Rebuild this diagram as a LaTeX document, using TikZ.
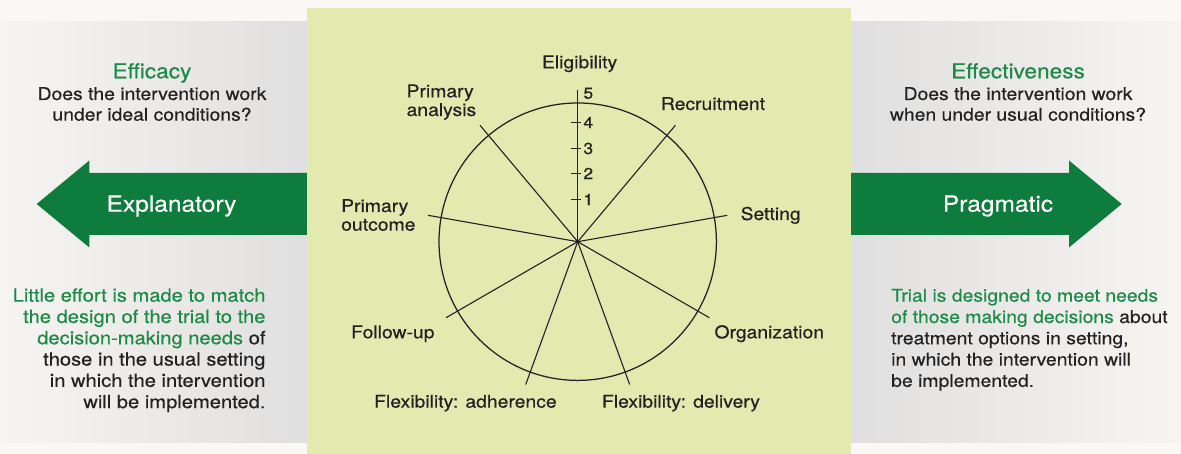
\documentclass[tikz,border=0pt]{standalone}
\usepackage{fontspec}
\setmainfont{TeX Gyre Heros}[FakeStretch=1.1,FakeBold=0.4]

\definecolor{bg}{HTML}{F9F8F4}
\definecolor{panelhi}{HTML}{F6F5F2}
\definecolor{panello}{HTML}{E0DFDF}
\definecolor{wheelbg}{HTML}{E2EAB0}
\definecolor{arrowgreen}{HTML}{0D7C3D}
\definecolor{textgreen}{HTML}{1D8A47}
\definecolor{ink}{HTML}{222222}

\begin{document}
\begin{tikzpicture}[x=1pt,y=1pt,
  txt/.style={inner sep=0pt, font=\fontsize{17.6}{21.3}\selectfont, text=ink},
  bigtxt/.style={inner sep=0pt, font=\fontsize{18.3}{21.3}\selectfont, text=ink},
  head/.style={inner sep=0pt, font=\fontsize{20.6}{24}\selectfont, text=textgreen},
  arrowlabel/.style={inner sep=0pt, font=\fontsize{22.3}{26}\selectfont, text=white},
  ticklabel/.style={inner sep=0pt, font=\fontsize{16}{18}\selectfont, text=ink, anchor=west},
  spoke/.style={draw=ink, line width=1.1pt},
  bigarrow/.style={fill=arrowgreen, draw=none}]

% canvas
\useasboundingbox (0,0) rectangle (1181,454);
\fill[bg] (0,0) rectangle (1181,454);

% side panels
\shade[left color=panelhi, right color=panello] (0,11) rectangle (307,432);
\shade[left color=panello, right color=panelhi] (851,11) rectangle (1181,432);

% direction arrows
\fill[bigarrow] (36.7,250) -- (89.3,293.5) -- (89.3,281) -- (307,281) -- (307,219)
  -- (89.3,219) -- (89.3,206.5) -- cycle;
\fill[bigarrow] (851,281) -- (1069,281) -- (1069,293.5) -- (1121.7,250)
  -- (1069,206.5) -- (1069,219) -- (851,219) -- cycle;

% centre panel
\fill[wheelbg] (306.7,0) rectangle (850.7,446);

% left panel texts
\node[head, anchor=base] (effh) at (152,375.7) {Efficacy};
\node[txt, anchor=base] (effq1) at (152,354) {Does the intervention work};
\node[txt, anchor=base] (effq2) at (152,333.3) {under ideal conditions?};
\node[arrowlabel, anchor=base] (expl) at (171.5,242.3) {Explanatory};
\node[bigtxt, anchor=base east, text=textgreen] (l1) at (265.7,152.3) {Little effort is made to match};
\node[bigtxt, anchor=base east, text=textgreen] (l2) at (265.7,131) {the design of the trial to the};
\node[bigtxt, anchor=base east] (l3) at (265.7,109.7) {\textcolor{textgreen}{decision-making needs} of};
\node[bigtxt, anchor=base east] (l4) at (265.7,88.4) {those in the usual setting};
\node[bigtxt, anchor=base east] (l5) at (265.7,67.1) {in which the intervention};
\node[bigtxt, anchor=base east] (l6) at (265.7,45.8) {will be implemented.};

% right panel texts
\node[head, anchor=base] (efth) at (1018,375.7) {Effectiveness};
\node[txt, anchor=base] (eftq1) at (1018,354) {Does the intervention work};
\node[txt, anchor=base] (eftq2) at (1018,333.3) {when under usual conditions?};
\node[arrowlabel, anchor=base] (prag) at (998,242.3) {Pragmatic};
\node[txt, anchor=base west, text=textgreen] (r1) at (891,152.3) {Trial is designed to meet needs};
\node[txt, anchor=base west] (r2) at (891,131) {\textcolor{textgreen}{of those making decisions} about};
\node[txt, anchor=base west] (r3) at (891,109.7) {treatment options in setting,};
\node[txt, anchor=base west] (r4) at (891,88.4) {in which the intervention will};
\node[txt, anchor=base west] (r5) at (891,67.1) {be implemented.};

% wheel
\coordinate (c) at (577.7,212.3);
\draw[ink, line width=1.25pt] (c) circle[radius=138.7];
\foreach \i/\a in {1/50,2/10,3/-30,4/-70,5/-110,6/-150,7/170,8/130}{
  \path (c) ++(\a:152) coordinate (s\i);
  \draw[spoke] (c) -- (s\i);
}
% scale axis with ticks
\path (c) ++(90:152) coordinate (axtop);
\draw[ink, line width=1.25pt] (c) -- (axtop);
\fill[ink] (c) circle[radius=1.6];
\foreach \k/\d in {1/42.2,2/68.2,3/93.2,4/119.2}{
  \path (c) ++(0,\d) coordinate (t\k);
  \draw[ink, line width=1.6pt] ([xshift=-6.5pt]t\k) -- ([xshift=3.5pt]t\k);
  \node[ticklabel] (tl\k) at ([xshift=5.5pt]t\k) {\k};
}
\node[ticklabel] (tl5) at (583.2,360.7) {5};

% dimension labels
\node[txt, anchor=base] (elig) at (579.6,385.7) {Eligibility};
\node[txt, anchor=base west] (recr) at (660.7,344) {Recruitment};
\node[txt, anchor=base west] (sett) at (740.4,234) {Setting};
\node[txt, anchor=base west] (orga) at (714.3,115.7) {Organization};
\node[txt, anchor=base west] (fdel) at (601.8,46.3) {Flexibility: delivery};
\node[txt, anchor=base west] (fadh) at (374,46.3) {Flexibility: adherence};
\node[txt, anchor=base west] (foll) at (351,115.7) {Follow-up};
\node[txt, anchor=base west] (pout1) at (341,242) {Primary};
\node[txt, anchor=base west] (pout2) at (341,223.3) {outcome};
\node[txt, anchor=base west] (pana1) at (406.4,356.7) {Primary};
\node[txt, anchor=base west] (pana2) at (406.4,338) {analysis};

\end{tikzpicture}
\end{document}
